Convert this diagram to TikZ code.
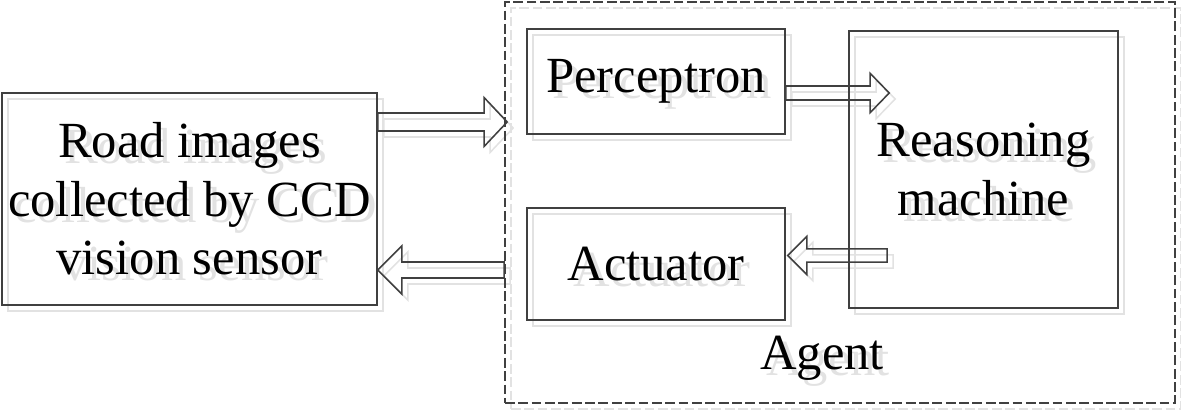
\documentclass[tikz,border=0pt]{standalone}
\usepackage{fontspec}
\setmainfont{Liberation Serif}
\usetikzlibrary{calc}

\definecolor{linegray}{HTML}{404040}
\definecolor{shadegray}{HTML}{E2E2E2}
\newcommand{\boxcol}{linegray}
\newcommand{\txtcol}{black}

\tikzset{
  box/.style={draw=\boxcol, line width=1.1pt, text=\txtcol, align=center,
    inner sep=0pt, font=\fontsize{36}{41.6}\selectfont},
  agentbox/.style={draw=\boxcol, line width=1.1pt, dash pattern=on 7pt off 2.5pt},
  agenttext/.style={text=\txtcol, font=\fontsize{36}{41.6}\selectfont},
  hollow/.style={draw=\boxcol, line width=1.1pt, line join=miter}
}

% name, from, to, shaft half width, head half width, head length
\newcommand{\hollowarrow}[6]{%
  \coordinate (#1b) at ($(#3)!#6!(#2)$);
  \draw[hollow] ($(#2)!#4!90:(#3)$) -- ($(#1b)!#4!90:(#3)$)
    -- ($(#1b)!#5!90:(#3)$) -- (#3) -- ($(#1b)!#5!-90:(#3)$)
    -- ($(#1b)!#4!-90:(#3)$) -- ($(#2)!#4!-90:(#3)$) -- cycle;
}

\newcommand{\agentdiagram}{%
  \node[agentbox, minimum width=16.75cm, minimum height=10.025cm] (agent) at (840,202.5) {};
  \node[agenttext] (agentname) at (822,358) {Agent};

  \node[box, minimum width=9.375cm, minimum height=5.3cm] (road) at (189.5,199)
    {Road images\\collected by CCD\\vision sensor};
  \node[box, minimum width=6.45cm, minimum height=2.625cm] (perc) at (656,81.5) {Perceptron};
  \node[box, minimum width=6.725cm, minimum height=6.925cm] (reason) at (983.5,169.5)
    {Reasoning\\machine};
  \node[box, minimum width=6.45cm, minimum height=2.8cm] (act) at (656,264) {Actuator};

  \coordinate (a1s) at ($(road.east)+(0,-77)$);
  \coordinate (a1e) at ($(agent.west)+(3,-80.5)$);
  \coordinate (a2s) at ($(agent.west)+(0,67.5)$);
  \coordinate (a2e) at ($(road.east)+(0,71)$);
  \coordinate (a3s) at ($(perc.east)+(0,11.5)$);
  \coordinate (a3e) at ($(reason.west)+(41,-76.5)$);
  \coordinate (a4s) at ($(reason.west)+(39,86)$);
  \coordinate (a4e) at ($(act.east)+(2,-8.5)$);

  \hollowarrow{a1}{a1s}{a1e}{0.225cm}{0.61cm}{0.575cm}
  \hollowarrow{a2}{a2s}{a2e}{0.2cm}{0.6cm}{0.6cm}
  \hollowarrow{a3}{a3s}{a3e}{0.175cm}{0.49cm}{0.475cm}
  \hollowarrow{a4}{a4s}{a4e}{0.165cm}{0.475cm}{0.475cm}
}

\begin{document}
\begin{tikzpicture}[x=0.025cm, y=-0.025cm]
  \useasboundingbox (0,0) rectangle (1181,409);

  % shadow layer
  \begin{scope}[shift={(6,6)}, name prefix=sh-]
    \renewcommand{\boxcol}{shadegray}
    \renewcommand{\txtcol}{shadegray}
    \agentdiagram
  \end{scope}

  \agentdiagram
\end{tikzpicture}
\end{document}
